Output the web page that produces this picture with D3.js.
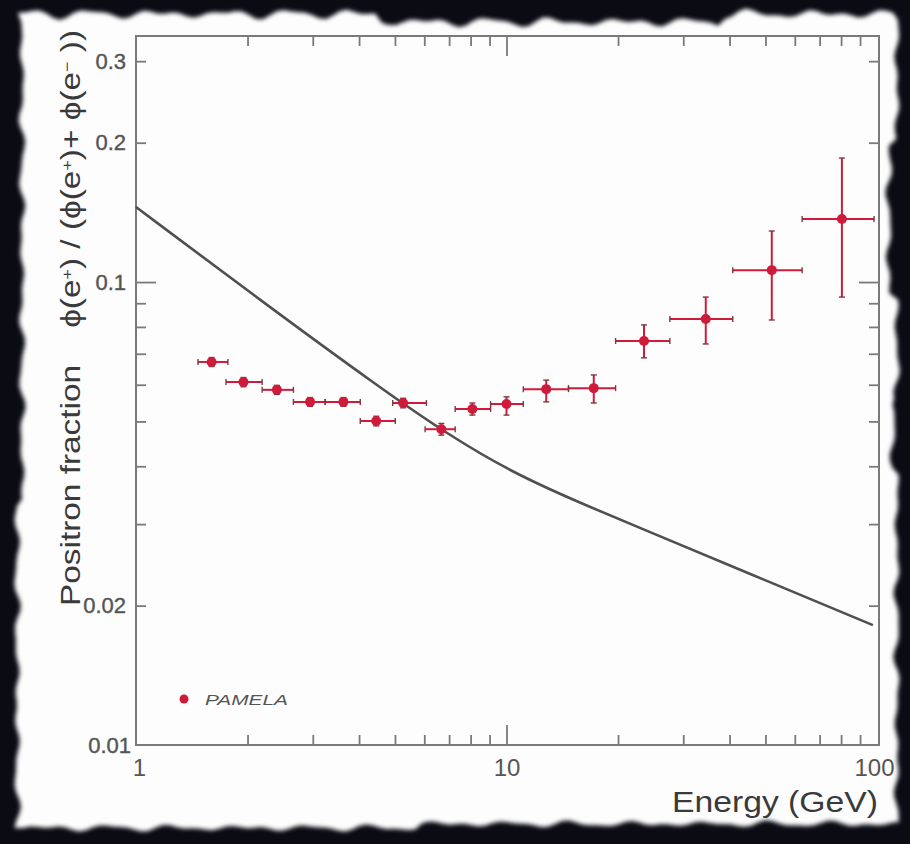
<!DOCTYPE html>
<html>
<head>
<meta charset="utf-8">
<script src="https://cdn.jsdelivr.net/npm/d3@7"></script>
<style>
  body { margin: 0; background: #0b0b14; }
  svg { display: block; }
</style>
</head>
<body>
<div id="wrapper"></div>
<script>
// PAMELA points
const energy   = [1.60, 1.95, 2.40, 2.95, 3.63, 4.45, 5.26, 6.67, 8.09, 10.0, 12.8, 17.2, 23.5, 34.5, 52.0, 80.4];
const binLow   = [1.47, 1.75, 2.19, 2.66, 3.24, 4.03, 4.93, 6.03, 7.27, 9.06, 11.1, 14.7, 19.7, 27.6, 40.8, 62.8];
const binHigh  = [1.77, 2.19, 2.66, 3.24, 4.03, 5.01, 6.08, 7.27, 9.06, 11.1, 14.7, 19.7, 27.6, 40.8, 62.8, 98.2];
const fraction = [0.0672, 0.0608, 0.0585, 0.0551, 0.0551, 0.0501, 0.0548, 0.0481, 0.0532, 0.0545, 0.0587, 0.0590, 0.0746, 0.0832, 0.1061, 0.1368];
const errLow   = [0.0657, 0.0594, 0.0572, 0.0539, 0.0539, 0.0489, 0.0535, 0.0467, 0.0516, 0.0516, 0.0551, 0.0548, 0.0686, 0.0735, 0.0828, 0.0928];
const errHigh  = [0.0687, 0.0622, 0.0598, 0.0563, 0.0563, 0.0513, 0.0561, 0.0495, 0.0548, 0.0565, 0.0614, 0.0630, 0.0808, 0.0928, 0.1289, 0.1853];

// secondary production curve (grey line)
const curveE = [1.0, 2.2, 4.57, 6.93, 10.4, 15.85, 23.0, 45.6, 97.5];
const curveF = [0.1452, 0.0905, 0.0590, 0.0469, 0.0387, 0.0333, 0.0294, 0.0234, 0.01815];

const yLabelTicks = [0.01, 0.02, 0.1, 0.2, 0.3];
const yMinorTicks = [0.02, 0.03, 0.04, 0.05, 0.06, 0.07, 0.08, 0.09, 0.2, 0.3];
const yMajorTicks = [0.1];
const xLabelTicks = [1, 10, 100];
const xMinorTicks = [2, 3, 4, 5, 6, 7, 8, 9, 20, 30, 40, 50, 60, 70, 80, 90];
const xMajorTicks = [10];

const W = 910, H = 844;
const frame = { left: 136, right: 879, top: 36, bottom: 745 };

const svg = d3.select("#wrapper").append("svg")
  .attr("width", W).attr("height", H);

// torn paper
const defs = svg.append("defs");
defs.append("filter").attr("id", "soft")
  .append("feGaussianBlur").attr("stdDeviation", 2);

function wobble(i, a) {
  return a * (Math.sin(i * 1.7) * 0.5 + Math.sin(i * 4.3 + 1) * 0.3 + Math.sin(i * 9.1 + 2) * 0.2);
}
const edge = [];
for (let x = 18; x <= 898; x += 7) {
  let base = 14;
  if (x > 380 && x < 720) base = 22;
  edge.push([x, base + wobble(x, 6)]);
}
for (let y = 20; y <= 828; y += 7) {
  let base = 897;
  if (y > 140 && y < 300) base = 889;
  if (y > 400 && y < 470) base = 893;
  edge.push([base + wobble(y, 4), y]);
}
for (let x = 898; x >= 18; x -= 7) {
  let base = 828;
  if (x > 420) base = 824;
  edge.push([x, base + wobble(x + 3, 4)]);
}
for (let y = 828; y >= 20; y -= 7) {
  let base = 22;
  if (y > 500) base = 17;
  edge.push([base + wobble(y + 7, 4), y]);
}
svg.append("path")
  .attr("d", d3.line()(edge) + "Z")
  .attr("fill", "#fdfdfd")
  .attr("filter", "url(#soft)");

const x = d3.scaleLog().domain([1, 100]).range([frame.left, 877]);
const y = d3.scaleLog().domain([0.01, 0.34]).range([frame.bottom, frame.top]);

const axisColor = "#7a7a7a";
const labelColor = "#555";
const font = "'Liberation Sans', Arial, sans-serif";

// frame
svg.append("rect")
  .attr("x", frame.left).attr("y", frame.top)
  .attr("width", frame.right - frame.left)
  .attr("height", frame.bottom - frame.top)
  .attr("fill", "none")
  .attr("stroke", axisColor)
  .attr("stroke-width", 2);

function ticks(axis, transform, size, values) {
  const g = svg.append("g")
    .attr("transform", transform)
    .call(axis.tickValues(values).tickSize(size).tickFormat(""));
  g.select(".domain").remove();
  g.selectAll("line").attr("stroke", axisColor).attr("stroke-width", 1.8);
}
// inward ticks on all four sides
ticks(d3.axisBottom(x), `translate(0,${frame.bottom})`, -10, xMinorTicks);
ticks(d3.axisBottom(x), `translate(0,${frame.bottom})`, -20, xMajorTicks);
ticks(d3.axisTop(x), `translate(0,${frame.top})`, -10, xMinorTicks);
ticks(d3.axisTop(x), `translate(0,${frame.top})`, -20, xMajorTicks);
ticks(d3.axisLeft(y), `translate(${frame.left},0)`, -10, yMinorTicks);
ticks(d3.axisLeft(y), `translate(${frame.left},0)`, -20, yMajorTicks);
ticks(d3.axisRight(y), `translate(${frame.right},0)`, -10, yMinorTicks);
ticks(d3.axisRight(y), `translate(${frame.right},0)`, -20, yMajorTicks);

// tick labels
const xLab = svg.append("g")
  .attr("transform", `translate(0,${frame.bottom})`)
  .call(d3.axisBottom(x).tickValues(xLabelTicks).tickSize(0).tickPadding(14).tickFormat(d3.format("d")));
xLab.select(".domain").remove();
xLab.selectAll("text")
  .attr("fill", labelColor).style("font-family", font)
  .style("font-size", "24px");
xLab.selectAll("text").filter(d => d === 1).attr("dx", 3);
xLab.selectAll("text").filter(d => d === 100).attr("dx", -3);

const yLab = svg.append("g")
  .attr("transform", `translate(${frame.left},0)`)
  .call(d3.axisLeft(y).tickValues(yLabelTicks).tickSize(0).tickPadding(10).tickFormat(d => String(d)));
yLab.select(".domain").remove();
yLab.selectAll("text")
  .attr("fill", labelColor).style("font-family", font)
  .style("font-size", "22px")
  .attr("stroke", labelColor).attr("stroke-width", 0.4);
yLab.selectAll("text").filter(d => d === 0.01).attr("dx", 5);

// axis titles
svg.append("text")
  .attr("x", 672)
  .attr("y", 812)
  .attr("textLength", 206)
  .attr("lengthAdjust", "spacingAndGlyphs")
  .attr("fill", "#3a3a3a")
  .style("font-family", font)
  .style("font-size", "29px")
  .text("Energy (GeV)");

const yTitle = svg.append("text")
  .attr("transform", "rotate(-90)")
  .attr("x", -606)
  .attr("y", 80)
  .attr("textLength", 576)
  .attr("lengthAdjust", "spacingAndGlyphs")
  .attr("fill", "#3a3a3a")
  .style("font-family", font)
  .style("font-size", "28px");
const parts = [
  ["Positron fraction\u00a0\u00a0\u00a0\u00a0ϕ(e", 0], ["+", 1], [") / (ϕ(e", 0], ["+", 1],
  [")+ ϕ(e", 0], ["−", 1], [" ))", 0]
];
parts.forEach(([t, sup]) => {
  const s = yTitle.append("tspan").text(t);
  if (sup) s.attr("baseline-shift", "super").style("font-size", "15px");
});

// curve
const line = d3.line()
  .x((d, i) => x(curveE[i]))
  .y((d, i) => y(curveF[i]))
  .curve(d3.curveBasis);
svg.append("path")
  .attr("d", line(curveE))
  .attr("fill", "none")
  .attr("stroke", "#505050")
  .attr("stroke-width", 2.6);

// PAMELA points with error bars
const red = "#cf1b3a";
const pts = svg.append("g").selectAll("g")
  .data(energy)
  .join("g");
pts.append("line")
  .attr("x1", (d, i) => x(binLow[i])).attr("x2", (d, i) => x(binHigh[i]))
  .attr("y1", (d, i) => y(fraction[i])).attr("y2", (d, i) => y(fraction[i]))
  .attr("stroke", red).attr("stroke-width", 2);
pts.append("line")
  .attr("x1", d => x(d)).attr("x2", d => x(d))
  .attr("y1", (d, i) => y(errLow[i])).attr("y2", (d, i) => y(errHigh[i]))
  .attr("stroke", red).attr("stroke-width", 2);
// small end caps
pts.each(function (d, i) {
  const g = d3.select(this);
  const cx = x(d), cy = y(fraction[i]);
  [[x(binLow[i]), cy, 0], [x(binHigh[i]), cy, 0], [cx, y(errLow[i]), 1], [cx, y(errHigh[i]), 1]]
    .forEach(([px, py, v]) => {
      g.append("line")
        .attr("x1", v ? px - 3 : px).attr("x2", v ? px + 3 : px)
        .attr("y1", v ? py : py - 3).attr("y2", v ? py : py + 3)
        .attr("stroke", "#7a3a44").attr("stroke-width", 1.4);
    });
});
pts.append("circle")
  .attr("cx", d => x(d))
  .attr("cy", (d, i) => y(fraction[i]))
  .attr("r", 5)
  .attr("fill", red);

// legend
svg.append("circle")
  .attr("cx", 184).attr("cy", 699).attr("r", 4.5).attr("fill", red);
svg.append("text")
  .attr("x", 205).attr("y", 705)
  .attr("textLength", 83)
  .attr("lengthAdjust", "spacingAndGlyphs")
  .attr("fill", "#555")
  .style("font-family", font)
  .style("font-size", "15px")
  .style("font-style", "italic")
  .text("PAMELA");
</script>
</body>
</html>
